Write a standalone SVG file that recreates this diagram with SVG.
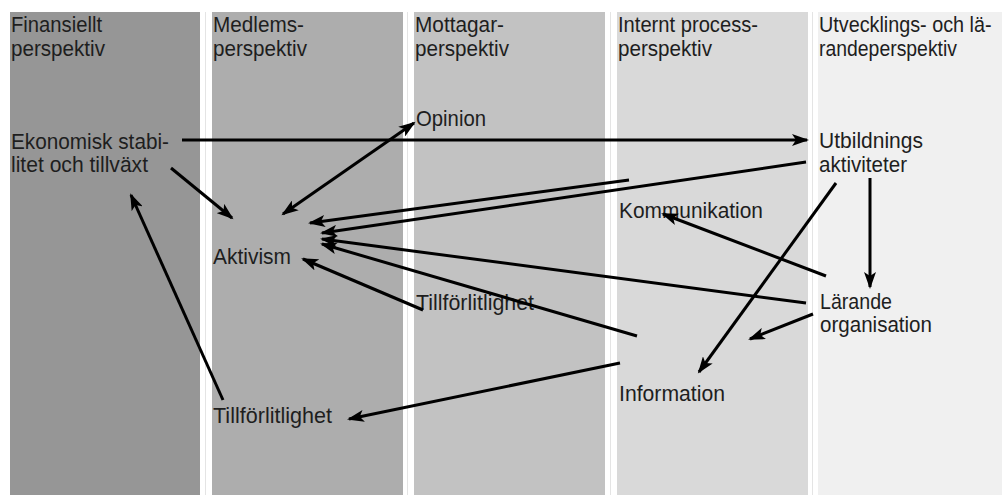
<svg xmlns="http://www.w3.org/2000/svg" width="1002" height="495" viewBox="0 0 1002 495">
<style>
.t{font-family:"Liberation Sans",Arial,sans-serif;font-size:22px;fill:#1e1e1e}
.c{stroke:#000;stroke-width:3;fill:none}
.g{stroke:#e4e4e4;stroke-width:1}
</style>
<defs>
<marker id="ah" markerUnits="userSpaceOnUse" markerWidth="18" markerHeight="12" refX="15" refY="6" orient="auto-start-reverse" viewBox="0 0 18 12">
<path d="M0,0 L17,6 L0,12 L4,6 z" fill="#000"/>
</marker>
</defs>
<rect width="1002" height="495" fill="#fff"/>
<g id="columns">
<rect x="10" y="12" width="190" height="483" fill="#969696"/>
<rect x="212" y="12" width="191" height="483" fill="#adadad"/>
<rect x="414" y="12" width="191" height="483" fill="#c2c2c2"/>
<rect x="617" y="12" width="191" height="483" fill="#d9d9d9"/>
<rect x="818" y="12" width="184" height="483" fill="#f0f0f0"/>
<line class="g" x1="205.5" y1="12" x2="205.5" y2="495"/>
<line class="g" x1="407.5" y1="12" x2="407.5" y2="495"/>
<line class="g" x1="610.5" y1="12" x2="610.5" y2="495"/>
<line class="g" x1="812.5" y1="12" x2="812.5" y2="495"/>
</g>
<g id="headers">
<text class="t" x="11" y="32" textLength="91" lengthAdjust="spacingAndGlyphs">Finansiellt</text>
<text class="t" x="11" y="56" textLength="94" lengthAdjust="spacingAndGlyphs">perspektiv</text>
<text class="t" x="213" y="32" textLength="91" lengthAdjust="spacingAndGlyphs">Medlems-</text>
<text class="t" x="213" y="56" textLength="94" lengthAdjust="spacingAndGlyphs">perspektiv</text>
<text class="t" x="415" y="32" textLength="89" lengthAdjust="spacingAndGlyphs">Mottagar-</text>
<text class="t" x="415" y="56" textLength="94" lengthAdjust="spacingAndGlyphs">perspektiv</text>
<text class="t" x="618" y="32" textLength="140" lengthAdjust="spacingAndGlyphs">Internt process-</text>
<text class="t" x="618" y="56" textLength="94" lengthAdjust="spacingAndGlyphs">perspektiv</text>
<text class="t" transform="translate(819,32) scale(0.9,1)">Utvecklings- och lä-</text>
<text class="t" x="819" y="56" textLength="138" lengthAdjust="spacingAndGlyphs">randeperspektiv</text>
</g>
<g id="node-ekonomisk">
<text class="t" x="11" y="149" textLength="158" lengthAdjust="spacingAndGlyphs">Ekonomisk stabi-</text>
<text class="t" x="11" y="172" textLength="137" lengthAdjust="spacingAndGlyphs">litet och tillväxt</text>
</g>
<g id="node-opinion"><text class="t" x="416" y="126" textLength="70" lengthAdjust="spacingAndGlyphs">Opinion</text></g>
<g id="node-utbildnings">
<text class="t" x="819" y="148" textLength="104" lengthAdjust="spacingAndGlyphs">Utbildnings</text>
<text class="t" x="819" y="172" textLength="88" lengthAdjust="spacingAndGlyphs">aktiviteter</text>
</g>
<g id="node-kommunikation"><text class="t" x="619" y="218" textLength="144" lengthAdjust="spacingAndGlyphs">Kommunikation</text></g>
<g id="node-aktivism"><text class="t" x="213" y="264" textLength="78" lengthAdjust="spacingAndGlyphs">Aktivism</text></g>
<g id="node-tillforlitlighet-mottagare"><text class="t" x="416" y="310" textLength="118" lengthAdjust="spacingAndGlyphs">Tillförlitlighet</text></g>
<g id="node-tillforlitlighet-medlem"><text class="t" x="213" y="423" textLength="119" lengthAdjust="spacingAndGlyphs">Tillförlitlighet</text></g>
<g id="node-larande">
<text class="t" x="820" y="309" textLength="72" lengthAdjust="spacingAndGlyphs">Lärande</text>
<text class="t" x="820" y="332" textLength="112" lengthAdjust="spacingAndGlyphs">organisation</text>
</g>
<g id="node-information"><text class="t" x="619" y="401" textLength="106" lengthAdjust="spacingAndGlyphs">Information</text></g>
<g id="connectors">
<line class="c" x1="182" y1="140" x2="807" y2="140" marker-end="url(#ah)"/>
<line class="c" x1="171" y1="168" x2="232" y2="218" marker-end="url(#ah)"/>
<line class="c" x1="283" y1="214" x2="414" y2="123" marker-start="url(#ah)" marker-end="url(#ah)"/>
<line class="c" x1="629" y1="180" x2="310" y2="223" marker-end="url(#ah)"/>
<line class="c" x1="806" y1="162" x2="322" y2="233" marker-end="url(#ah)"/>
<line class="c" x1="806" y1="303" x2="322" y2="239" marker-end="url(#ah)"/>
<line class="c" x1="637" y1="336" x2="322" y2="244" marker-end="url(#ah)"/>
<line class="c" x1="423" y1="310" x2="303" y2="259" marker-end="url(#ah)"/>
<line class="c" x1="223" y1="400" x2="131" y2="195" marker-end="url(#ah)"/>
<line class="c" x1="620" y1="363" x2="349" y2="419" marker-end="url(#ah)"/>
<line class="c" x1="836" y1="183" x2="699" y2="372" marker-end="url(#ah)"/>
<line class="c" x1="870" y1="178" x2="870" y2="287" marker-end="url(#ah)"/>
<line class="c" x1="826" y1="276" x2="663" y2="214" marker-end="url(#ah)"/>
<line class="c" x1="813" y1="314" x2="750" y2="339" marker-end="url(#ah)"/>
</g>
</svg>
